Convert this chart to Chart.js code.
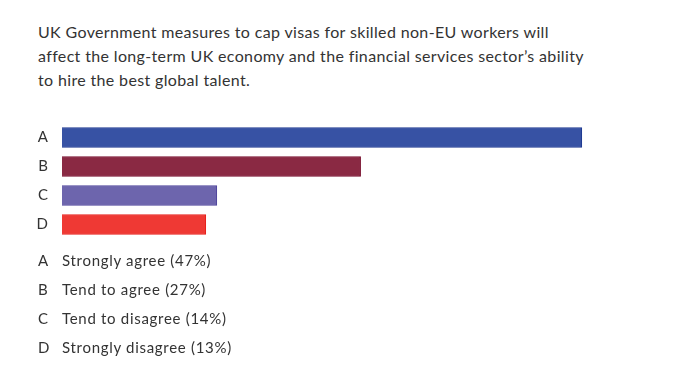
<!DOCTYPE html>
<html>
<head>
<meta charset="utf-8">
<script src="https://cdn.jsdelivr.net/npm/chart.js@4"></script>
<style>
  body { margin: 0; background: #fff; font-family: Lato, "Open Sans", sans-serif; color: #333; }
  #wrap { position: relative; width: 700px; height: 373px; overflow: hidden; }
  #title { position: absolute; left: 38px; top: 20px; font-size: 16px; line-height: 24px; letter-spacing: 0.35px; }
  #chart { position: absolute; left: 0; top: 100px; }
  #legend { position: absolute; left: 38px; top: 246px; font-size: 15px; letter-spacing: 0.7px; }
  #legend div { height: 29px; line-height: 29px; }
  #legend span { display: inline-block; width: 24px; }
</style>
</head>
<body>
<div id="wrap">
  <div id="title">UK Government measures to cap visas for skilled non-EU workers will<br>affect the long-term UK economy and the financial services sector’s ability<br>to hire the best global talent.</div>
  <canvas id="chart" width="700" height="162"></canvas>
  <div id="legend"></div>
</div>
<script>
const categories = ['A', 'B', 'C', 'D'];
const answers = ['Strongly agree', 'Tend to agree', 'Tend to disagree', 'Strongly disagree'];
const values = [47, 27, 14, 13];
const fillColors = ['#3752a4', '#8a2943', '#6d65ad', '#ef3934'];
const lineColors = ['#1d3890', '#780e2d', '#4c429b', '#e61f1a'];

// legend rows under the chart
const legend = document.getElementById('legend');
categories.forEach((c, i) => {
    const row = document.createElement('div');
    row.innerHTML = `<span>${c}</span>${answers[i]} (${values[i]}%)`;
    legend.appendChild(row);
});

// note: the y tick padding also pads the chart area top/bottom (~23px each),
// so the canvas is taller and shifted up to keep the bars where they belong
new Chart(document.getElementById('chart'), {
    type: 'bar',
    data: {
        labels: categories,
        datasets: [{
            data: values,
            backgroundColor: fillColors,
            borderColor: lineColors,
            borderWidth: 1,
            barThickness: 20
        }]
    },
    options: {
        indexAxis: 'y',
        responsive: false,
        animation: false,
        layout: { padding: { left: 0, right: 85, top: 0, bottom: 0 } },
        plugins: { legend: { display: false }, tooltip: { enabled: false } },
        scales: {
            x: { display: false, min: 0, max: 50 },
            y: {
                grid: { display: false, drawTicks: false },
                border: { display: false },
                ticks: { color: '#333', padding: 14, font: { family: 'Lato', size: 15 } },
                afterFit(scale) { scale.width = 62; }
            }
        }
    }
});
</script>
</body>
</html>
